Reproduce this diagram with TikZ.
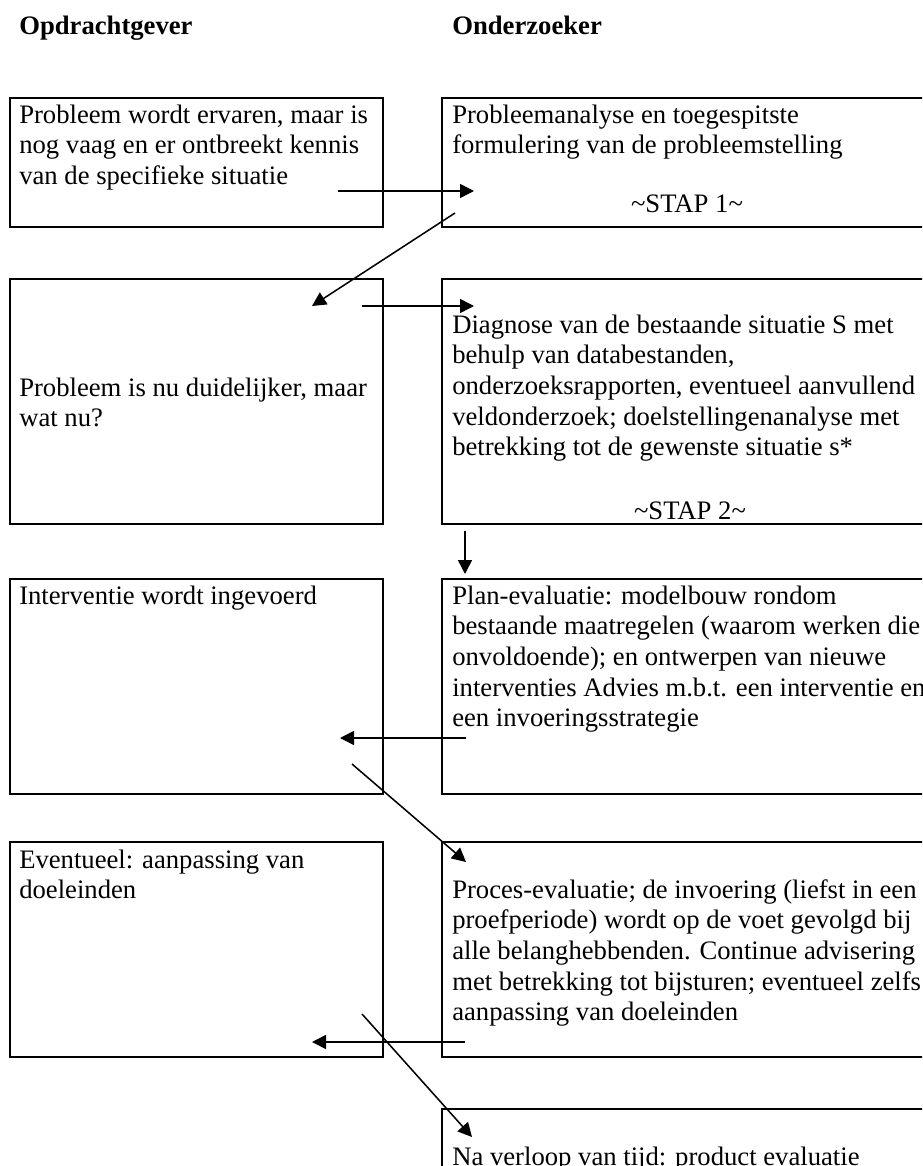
\documentclass[tikz,border=0pt]{standalone}
\usepackage{fontspec}
\setmainfont{Liberation Serif}
\usetikzlibrary{arrows.meta}
\begin{document}
\begin{tikzpicture}[x=0.75pt,y=-0.75pt,
  box/.style={draw, line width=1.5pt, rectangle, inner sep=0pt, outer sep=0pt, anchor=north west},
  lbox/.style={box, minimum width=373*0.75pt},
  rbox/.style={box, minimum width=490*0.75pt},
  txt/.style={anchor=north west, inner sep=0pt, align=left, font=\fontsize{20}{23}\selectfont},
  hdr/.style={anchor=base west, inner sep=0pt, font=\fontsize{20}{23}\selectfont\bfseries},
  stap/.style={anchor=base, inner sep=0pt, font=\fontsize{20}{23}\selectfont},
  arr/.style={-{Triangle[length=10.5pt,width=10.5pt]}, line width=1.15pt}]
\useasboundingbox (0,0) rectangle (922,1166);
\clip (0,0) rectangle (922,1166);

% headers
\node[hdr] (h1) at (19,35) {Opdrachtgever};
\node[hdr] (h2) at (452,35) {Onderzoeker};

% boxes
\node[lbox, minimum height=129*0.75pt] (L1) at (10,98) {};
\node[rbox, minimum height=129*0.75pt] (R1) at (442,98) {};
\node[lbox, minimum height=245*0.75pt] (L2) at (10,279) {};
\node[rbox, minimum height=245*0.75pt] (R2) at (442,279) {};
\node[lbox, minimum height=215*0.75pt] (L3) at (10,579) {};
\node[rbox, minimum height=215*0.75pt] (R3) at (442,579) {};
\node[lbox, minimum height=215*0.75pt] (L4) at (10,842) {};
\node[rbox, minimum height=215*0.75pt] (R4) at (442,842) {};
\node[rbox, minimum height=160*0.75pt] (R5) at (442,1109) {};

% texts
\node[txt] (tL1) at (19,101.5) {\strut Probleem wordt ervaren, maar is\\nog vaag en er ontbreekt kennis\\van de specifieke situatie};
\node[txt] (tR1) at (452,101.5) {\strut Probleemanalyse en toegespitste\\formulering van de probleemstelling};
\node[stap] (s1) at (687,213) {\textasciitilde STAP 1\textasciitilde};

\node[txt] (tL2) at (19,374.5) {\strut Probleem is nu duidelijker, maar\\wat nu?};
\node[txt] (tR2) at (452,311.5) {\strut Diagnose van de bestaande situatie S met\\behulp van databestanden,\\onderzoeksrapporten, eventueel aanvullend\\veldonderzoek; doelstellingenanalyse met\\betrekking tot de gewenste situatie s*};
\node[stap] (s2) at (690,519) {\textasciitilde STAP 2\textasciitilde};

\node[txt] (tL3) at (19,582.5) {\strut Interventie wordt ingevoerd};
\node[txt] (tR3) at (452,582.5) {\strut Plan-evaluatie: modelbouw rondom\\bestaande maatregelen (waarom werken die\\onvoldoende); en ontwerpen van nieuwe\\interventies Advies m.b.t. een interventie en\\een invoeringsstrategie};

\node[txt] (tL4) at (19,846.5) {\strut Eventueel: aanpassing van\\doeleinden};
\node[txt] (tR4) at (452,876.5) {\strut Proces-evaluatie; de invoering (liefst in een\\proefperiode) wordt op de voet gevolgd bij\\alle belanghebbenden. Continue advisering\\met betrekking tot bijsturen; eventueel zelfs\\aanpassing van doeleinden};

\node[stap, anchor=base west] (tR5) at (452,1165) {Na verloop van tijd: product evaluatie};

% arrow end points
\coordinate (a1s) at (338,191);  \coordinate (a1e) at (474,191);
\coordinate (d1s) at (455,213);  \coordinate (d1e) at (312,306);
\coordinate (a2s) at (362,306);  \coordinate (a2e) at (474,306);
\coordinate (vs)  at (465,531);  \coordinate (ve)  at (465,574);
\coordinate (a3s) at (466,738);  \coordinate (a3e) at (340,738);
\coordinate (d2s) at (352,764);  \coordinate (d2e) at (466,862);
\coordinate (a4s) at (465,1042); \coordinate (a4e) at (312,1042);
\coordinate (d3s) at (362,1014); \coordinate (d3e) at (472,1137);

\draw[arr] (a1s) -- (a1e);
\draw[arr] (d1s) -- (d1e);
\draw[arr] (a2s) -- (a2e);
\draw[arr] (vs) -- (ve);
\draw[arr] (a3s) -- (a3e);
\draw[arr] (d2s) -- (d2e);
\draw[arr] (a4s) -- (a4e);
\draw[arr] (d3s) -- (d3e);
\end{tikzpicture}
\end{document}
